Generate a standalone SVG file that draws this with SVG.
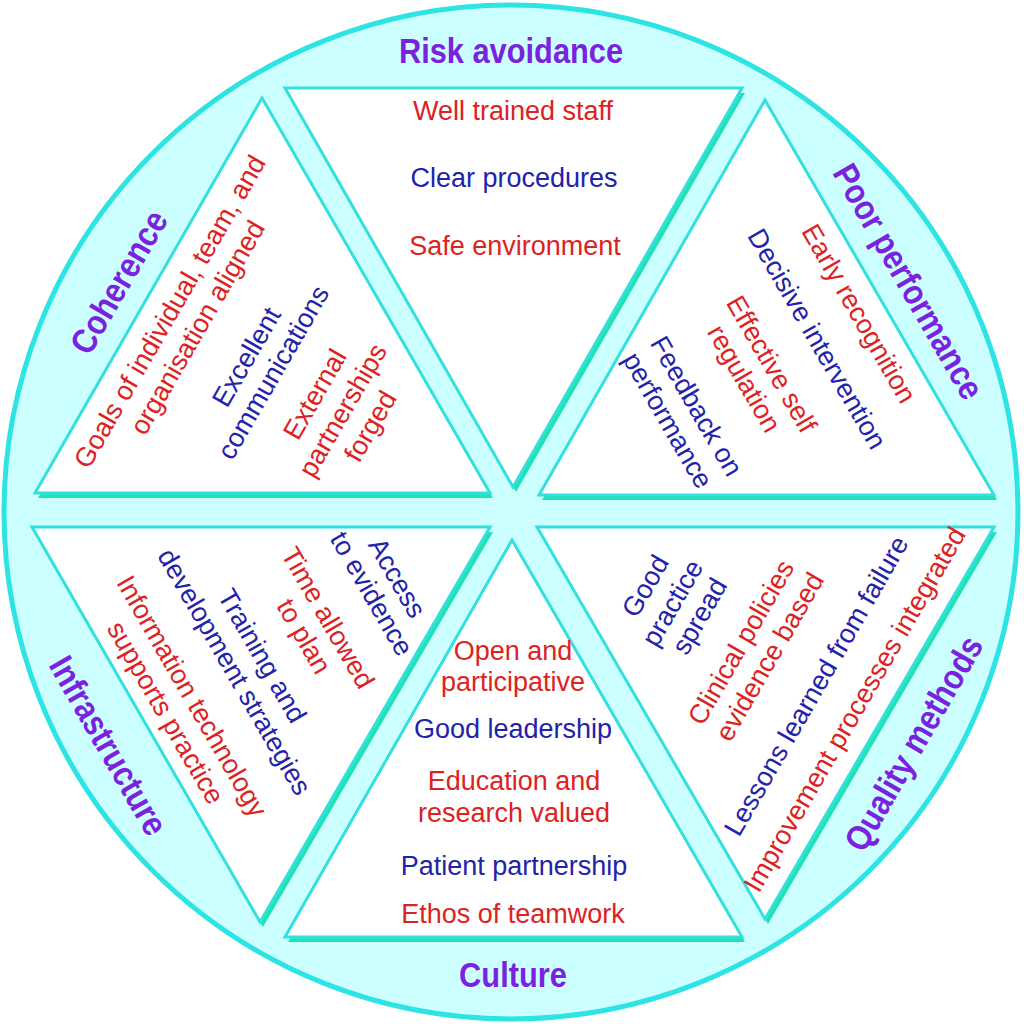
<svg xmlns="http://www.w3.org/2000/svg" width="1024" height="1024" viewBox="0 0 1024 1024">
<style>
.bg{fill:#ffffff}
.ring{fill:#ccffff;stroke:#2ee3e3;stroke-width:5}
.tri{fill:#ffffff;stroke:#33e0e0;stroke-width:3;stroke-linejoin:miter}
.sh{fill:#22e2b2}
.t{font-family:"Liberation Sans",Arial,sans-serif;font-size:27px;text-anchor:middle}
.r{fill:#dd2222}
.b{fill:#2222aa}
.h{font-family:"Liberation Sans",Arial,sans-serif;font-weight:bold;font-size:35px;fill:#7a22e0;text-anchor:middle}
</style>
<rect class="bg" x="0" y="0" width="1024" height="1024"/>
<circle id="wheel" class="ring" cx="511" cy="512" r="507"/>
<g id="connectors"/>

<g id="risk-avoidance">
  <polygon class="sh" points="288,93 745,93 516,492"/>
  <polygon class="tri" points="285,88 742,88 513,487"/>
  <text class="h" transform="translate(511,63) scale(0.88,1)">Risk avoidance</text>
  <text class="t r" x="513" y="120">Well trained staff</text>
  <text class="t b" x="514" y="187">Clear procedures</text>
  <text class="t r" x="515" y="255">Safe environment</text>
</g>

<g id="coherence">
  <polygon class="sh" points="265,103 38,498 493,498"/>
  <polygon class="tri" points="262,98 35,493 490,493"/>
  <g transform="rotate(-60)">
    <text class="h" transform="translate(-185,256) scale(0.88,1)">Coherence</text>
    <text class="t r" x="-185" y="312">Goals of individual, team, and</text>
    <text class="t r" x="-185" y="344">organisation aligned</text>
    <text class="t b" x="-186" y="401">Excellent</text>
    <text class="t b" x="-186" y="432">communications</text>
    <text class="t r" x="-184" y="479">External</text>
    <text class="t r" x="-184" y="511">partnerships</text>
    <text class="t r" x="-184" y="543">forged</text>
  </g>
</g>

<g id="poor-performance">
  <polygon class="sh" points="768,105 542,500 997,500"/>
  <polygon class="tri" points="765,100 539,495 994,495"/>
  <g transform="rotate(60)">
    <text class="h" transform="translate(698,-634) scale(0.88,1)">Poor performance</text>
    <text class="t r" x="701" y="-578">Early recognition</text>
    <text class="t b" x="702" y="-529">Decisive intervention</text>
    <text class="t r" x="701" y="-477">Effective self</text>
    <text class="t r" x="700" y="-446">regulation</text>
    <text class="t b" x="700" y="-391">Feedback on</text>
    <text class="t b" x="698" y="-359">performance</text>
  </g>
</g>

<g id="infrastructure">
  <polygon class="sh" points="35,532 493,532 263,927"/>
  <polygon class="tri" points="32,527 490,527 260,922"/>
  <g transform="rotate(60)">
    <text class="h" transform="translate(700,291) scale(0.88,1)">Infrastructure</text>
    <text class="t b" x="699" y="-46">Access</text>
    <text class="t b" x="700" y="-16">to evidence</text>
    <text class="t r" x="699" y="34">Time allowed</text>
    <text class="t r" x="703" y="64">to plan</text>
    <text class="t b" x="699" y="110">Training and</text>
    <text class="t b" x="699" y="142">development strategies</text>
    <text class="t r" x="699" y="191">Information technology</text>
    <text class="t r" x="700" y="222">supports practice</text>
  </g>
</g>

<g id="culture">
  <polygon class="sh" points="515,545 288,942 745,942"/>
  <polygon class="tri" points="512,540 285,937 742,937"/>
  <text class="h" transform="translate(513,987) scale(0.88,1)">Culture</text>
  <text class="t r" x="513" y="660">Open and</text>
  <text class="t r" x="513" y="691">participative</text>
  <text class="t b" x="513" y="738">Good leadership</text>
  <text class="t r" x="514" y="790">Education and</text>
  <text class="t r" x="514" y="822">research valued</text>
  <text class="t b" x="514" y="875">Patient partnership</text>
  <text class="t r" x="513" y="923">Ethos of teamwork</text>
</g>

<g id="quality-methods">
  <polygon class="sh" points="540,532 997,532 768,924"/>
  <polygon class="tri" points="537,527 994,527 765,919"/>
  <g transform="rotate(-60)">
    <text class="h" transform="translate(-187,1175) scale(0.88,1)">Quality methods</text>
    <text class="t b" x="-185" y="861">Good</text>
    <text class="t b" x="-186" y="893">practice</text>
    <text class="t b" x="-184" y="923">spread</text>
    <text class="t r" x="-186" y="972">Clinical policies</text>
    <text class="t r" x="-184" y="1004">evidence based</text>
    <text class="t b" x="-186" y="1059">Lessons learned from failure</text>
    <text class="t r" x="-187" y="1104">Improvement processes integrated</text>
  </g>
</g>
</svg>
